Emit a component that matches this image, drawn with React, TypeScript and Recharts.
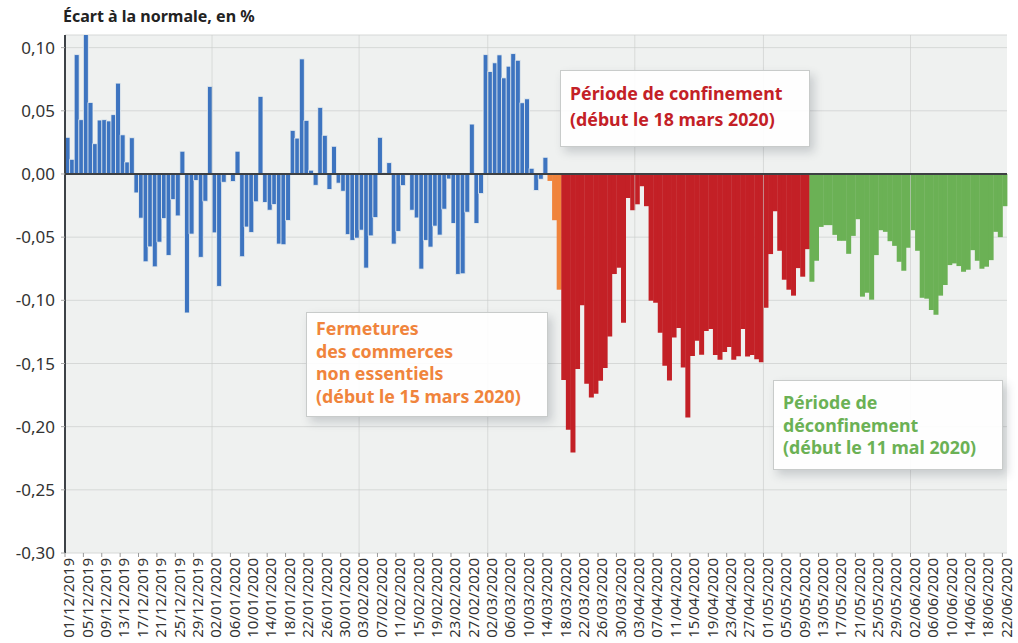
import { BarChart, Bar, Cell, XAxis, YAxis, CartesianGrid, ReferenceLine } from "recharts";

// écart à la normale (en %), un point par jour à partir du 01/12/2019
const beforeClosure = [
  0.029, 0.0116, 0.0945, 0.043, 0.112, 0.0566, 0.024, 0.0427, 0.043, 0.042,
  0.047, 0.0719, 0.031, 0.0095, 0.0287, -0.015, -0.035, -0.0695, -0.0577, -0.0735,
  -0.054, -0.0353, -0.0645, -0.0203, -0.0332, 0.018, -0.11, -0.0476, -0.0052, -0.066,
  -0.0216, 0.0693, -0.0466, -0.089, -0.0066, 0, -0.006, 0.018, -0.0655, -0.042,
  -0.0463, -0.022, 0.0614, -0.0226, -0.0287, -0.0242, -0.0555, -0.056, -0.0368, 0.0345,
  0.0284, 0.0911, 0.0424, 0.003, -0.009, 0.0527, 0.0306, -0.0123, 0.0219, -0.0073,
  -0.0137, -0.048, -0.0526, -0.0508, -0.0445, -0.0745, -0.049, -0.0345, 0.029, 0.001,
  0.009, -0.0555, -0.0455, -0.0092, -0.001, -0.0287, -0.0348, -0.0753, -0.0526, -0.0579,
  -0.0413, -0.0484, -0.0279, -0.004, -0.0392, -0.0795, -0.079, -0.0303, 0.0395, -0.0392,
  -0.0155, 0.0945, 0.0811, 0.088, 0.0943, 0.0761, 0.0853, 0.0953, 0.09, 0.0564,
  0.0595, 0.0045, -0.0131, -0.0042, 0.0132,
];
const shopClosure = [-0.0055, -0.0366, -0.0916];
const lockdown = [
  -0.163, -0.2025, -0.2204, -0.1543, -0.104, -0.166, -0.177, -0.174, -0.1637, -0.1535,
  -0.1287, -0.0792, -0.0742, -0.1177, -0.019, -0.0287, -0.024, -0.0097, -0.0255, -0.1003,
  -0.1019, -0.1256, -0.1517, -0.1635, -0.1295, -0.122, -0.1532, -0.1927, -0.144, -0.132,
  -0.143, -0.1242, -0.1227, -0.1432, -0.147, -0.141, -0.137, -0.147, -0.1443, -0.1227,
  -0.1445, -0.1432, -0.1466, -0.149, -0.1058, -0.0634, -0.0295, -0.0608, -0.0837, -0.0916,
  -0.0963, -0.0745, -0.0813, -0.0595,
];
const reopening = [
  -0.0853, -0.0687, -0.0419, -0.0405, -0.0405, -0.0482, -0.0529, -0.0529, -0.0632, -0.049,
  -0.0358, -0.0971, -0.094, -0.0995, -0.0642, -0.0445, -0.0458, -0.0532, -0.0569, -0.0695,
  -0.0766, -0.0584, -0.0445, -0.0608, -0.098, -0.0987, -0.1077, -0.1114, -0.0963, -0.0879,
  -0.0721, -0.0708, -0.0729, -0.0774, -0.0758, -0.0603, -0.0687, -0.075, -0.0734, -0.0682,
  -0.0458, -0.05, -0.0255,
];

const yTicks = [0.1, 0.05, 0, -0.05, -0.1, -0.15, -0.2, -0.25, -0.3];
const monthLines = ["02/01/2020", "03/02/2020", "02/03/2020", "03/04/2020", "01/05/2020", "02/06/2020"];

const BLUE = "#3d74c0";
const ORANGE = "#f0843c";
const RED = "#c32026";
const GREEN = "#6bb155";
const BG = "#eff1f0";
const FONT = "'Noto Sans', sans-serif";

const pad = (n: number) => String(n).padStart(2, "0");
const dayLabel = (i: number) => {
  const d = new Date(2019, 11, 1 + i);
  return `${pad(d.getDate())}/${pad(d.getMonth() + 1)}/${d.getFullYear()}`;
};

const periods = [
  { values: beforeClosure, color: BLUE },
  { values: shopClosure, color: ORANGE },
  { values: lockdown, color: RED },
  { values: reopening, color: GREEN },
];

const rows: { date: string; value: number; color: string }[] = [];
periods.forEach((p) =>
  p.values.forEach((v) => rows.push({ date: dayLabel(rows.length), value: v, color: p.color }))
);

const W = 1018;
const H = 643;
const LEFT = 65;
const RIGHT = 11;
const BAND = (W - LEFT - RIGHT) / rows.length;

const fmt = (v: number) => v.toFixed(2).replace(".", ",");

function XTick(props: any) {
  const { x, y, payload } = props;
  const tx = x + 1;
  const ty = y + 5;
  return (
    <g>
      <line x1={x - BAND / 2} x2={x - BAND / 2} y1={y} y2={y + 4} stroke="#9a9a9a" />
      <text
        x={tx}
        y={ty}
        transform={`rotate(-90, ${tx}, ${ty})`}
        textAnchor="end"
        dominantBaseline="central"
        fontSize={15}
        fill="#333"
      >
        {payload.value}
      </text>
    </g>
  );
}

function Note({ left, top, width, height, color, lines, padTop, lineH }: any) {
  return (
    <div
      style={{
        position: "absolute",
        left,
        top,
        width,
        height,
        boxSizing: "border-box",
        background: "rgba(255,255,255,0.9)",
        border: "1px solid #c8cbca",
        boxShadow: "4px 5px 9px rgba(60,70,80,0.22)",
        padding: `${padTop}px 0 0 9px`,
        color,
        fontWeight: 700,
        fontSize: 17.8,
        lineHeight: `${lineH}px`,
        whiteSpace: "nowrap",
      }}
    >
      {lines.map((l: string) => (
        <div key={l}>{l}</div>
      ))}
    </div>
  );
}

export default function App() {
  return (
    <div style={{ position: "absolute", left: 0, top: 0, width: W, height: H, background: "#fff", fontFamily: FONT }}>
      <div style={{ position: "absolute", left: 63, top: 5, fontSize: 16, fontWeight: 700, color: "#222" }}>
        Écart à la normale, en %
      </div>
      <BarChart width={W} height={H} data={rows} margin={{ top: 35, right: RIGHT, bottom: 0, left: 0 }} barCategoryGap={0}>
        <CartesianGrid vertical={false} fill={BG} stroke="#d6d8d7" />
        <XAxis
          dataKey="date"
          interval={3}
          tick={(p: any) => <XTick {...p} />}
          tickLine={false}
          axisLine={false}
          tickSize={0}
          tickMargin={0}
          height={90}
        />
        <YAxis
          width={LEFT}
          domain={[-0.3, 0.11]}
          allowDataOverflow
          ticks={yTicks}
          tickFormatter={fmt}
          tick={{ fontSize: 17, fill: "#333" }}
          tickLine={{ stroke: "#aaa" }}
          tickSize={4}
          tickMargin={6}
          axisLine={{ stroke: "#3d4247", strokeWidth: 2 }}
        />
        <Bar dataKey="value" isAnimationActive={false}>
          {rows.map((r) => (
            <Cell
              key={r.date}
              fill={r.color}
              stroke={r.color === BLUE ? BG : "none"}
              strokeWidth={r.color === BLUE ? 0.8 : 0}
            />
          ))}
        </Bar>
        {monthLines.map((d) => (
          <ReferenceLine key={d} x={d} position="start" stroke="#c9cbca" strokeOpacity={0.6} />
        ))}
        <ReferenceLine y={0} stroke="#3d4043" strokeWidth={2} />
      </BarChart>
      <Note
        left={560}
        top={70}
        width={250}
        height={77}
        padTop={9}
        lineH={26}
        color={RED}
        lines={["Période de confinement", "(début le 18 mars 2020)"]}
      />
      <Note
        left={306}
        top={312}
        width={242}
        height={105}
        padTop={4}
        lineH={22.7}
        color={ORANGE}
        lines={["Fermetures", "des commerces", "non essentiels", "(début le 15 mars 2020)"]}
      />
      <Note
        left={773}
        top={380}
        width={230}
        height={90}
        padTop={10}
        lineH={22.5}
        color={GREEN}
        lines={["Période de", "déconfinement", "(début le 11 mal 2020)"]}
      />
    </div>
  );
}
